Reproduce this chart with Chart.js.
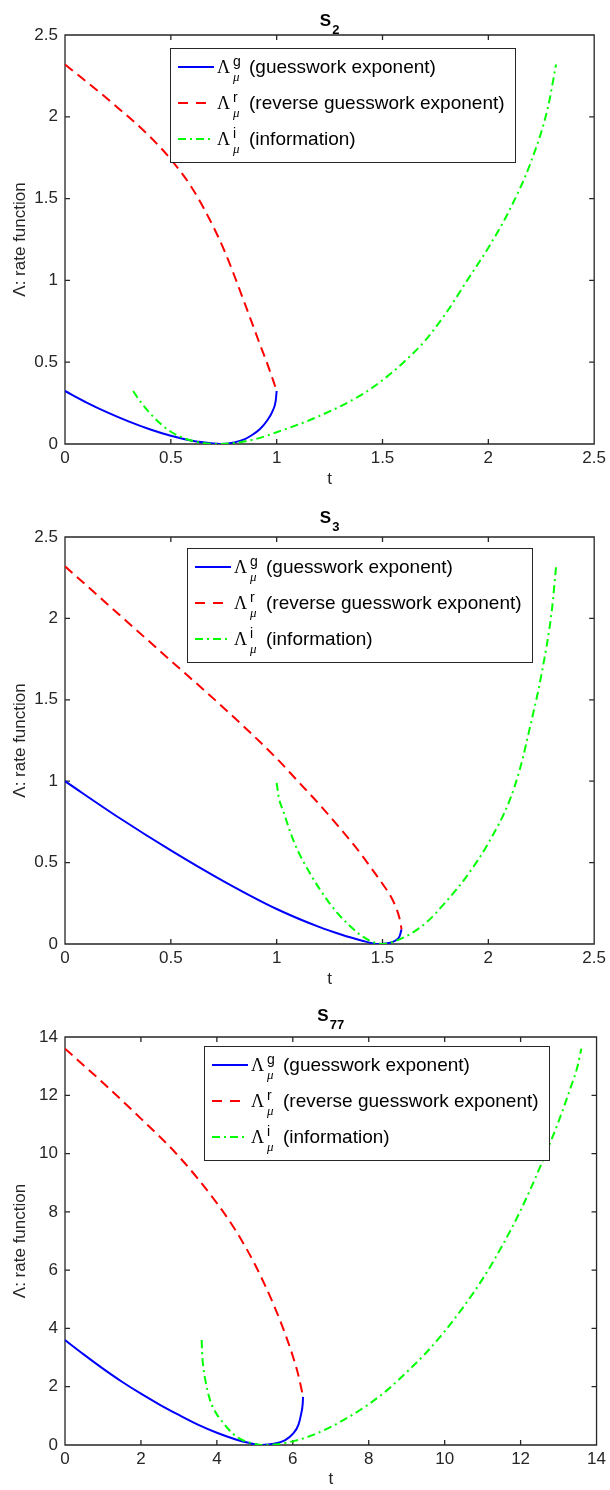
<!DOCTYPE html>
<html>
<head>
<meta charset="utf-8">
<title>Guesswork rate functions</title>
<script src="https://cdn.jsdelivr.net/npm/chart.js@4.4.1/dist/chart.umd.min.js"></script>
<style>
  html, body { margin: 0; padding: 0; background: #fff; overflow: hidden; }
  canvas { display: block; }
</style>
</head>
<body>
<canvas id="chart-s2" width="610" height="500"></canvas>
<canvas id="chart-s3" width="610" height="500"></canvas>
<canvas id="chart-s77" width="610" height="500"></canvas>
<script>
// S_2
const s2GuessT = [0, 0.1, 0.2, 0.3, 0.4, 0.5, 0.6, 0.7, 0.73, 0.8, 0.85, 0.88, 0.92, 0.956, 0.98, 0.995, 1.0];
const s2GuessRate = [0.324, 0.255, 0.193, 0.138, 0.09, 0.05, 0.02, 0.003, 0, 0.01, 0.03, 0.052, 0.09, 0.145, 0.2, 0.26, 0.324];
const s2ReverseT = [0, 0.2, 0.4, 0.5, 0.6, 0.7, 0.76, 0.81, 0.85, 0.883, 0.92, 0.956, 0.983, 1.0];
const s2ReverseRate = [2.32, 2.11, 1.88, 1.74, 1.565, 1.33, 1.16, 0.995, 0.856, 0.742, 0.612, 0.49, 0.39, 0.324];
const s2InfoT = [0.322, 0.35, 0.4, 0.45, 0.5, 0.55, 0.6, 0.65, 0.72, 0.8, 0.9, 1.0, 1.2, 1.4, 1.5, 1.6, 1.7, 1.8, 1.9, 2.0, 2.1, 2.2, 2.28, 2.32];
const s2InfoRate = [0.324, 0.27, 0.19, 0.125, 0.075, 0.042, 0.02, 0.006, 0, 0.006, 0.03, 0.072, 0.17, 0.3, 0.39, 0.5, 0.63, 0.8, 1.0, 1.2, 1.43, 1.72, 2.05, 2.32];

// S_3
const s3GuessT = [0, 0.25, 0.5, 0.75, 1.0, 1.2, 1.3, 1.4, 1.48, 1.53, 1.56, 1.58, 1.59];
const s3GuessRate = [1.0, 0.78, 0.575, 0.385, 0.215, 0.105, 0.06, 0.022, 0, 0.006, 0.02, 0.045, 0.09];
const s3ReverseT = [0, 0.25, 0.5, 0.75, 1.0, 1.1, 1.2, 1.3, 1.4, 1.45, 1.5, 1.54, 1.565, 1.58, 1.59];
const s3ReverseRate = [2.32, 2.03, 1.74, 1.45, 1.14, 1.0, 0.86, 0.71, 0.55, 0.46, 0.37, 0.29, 0.22, 0.16, 0.09];
const s3InfoT = [1.0, 1.01, 1.03, 1.084, 1.157, 1.25, 1.34, 1.43, 1.495, 1.61, 1.705, 1.8, 1.9, 2.0, 2.1, 2.15, 2.2, 2.25, 2.3, 2.32];
const s3InfoRate = [0.99, 0.9, 0.82, 0.62, 0.435, 0.25, 0.118, 0.027, 0, 0.047, 0.13, 0.26, 0.42, 0.62, 0.88, 1.08, 1.35, 1.65, 2.05, 2.32];

// S_77
const s77GuessT = [0, 0.5, 1.0, 1.5, 2.0, 2.5, 3.0, 3.5, 4.0, 4.5, 4.8, 5.17, 5.5, 5.8, 6.0, 6.15, 6.22, 6.26, 6.27];
const s77GuessRate = [3.6, 3.1, 2.62, 2.17, 1.76, 1.38, 1.03, 0.7, 0.42, 0.19, 0.085, 0, 0.04, 0.17, 0.38, 0.7, 1.07, 1.4, 1.65];
const s77ReverseT = [0, 1.0, 2.0, 3.0, 4.0, 4.5, 5.0, 5.5, 5.8, 6.0, 6.15, 6.27];
const s77ReverseRate = [13.6, 12.43, 11.2, 9.9, 8.3, 7.35, 6.2, 4.8, 3.81, 3.05, 2.38, 1.66];
const s77InfoT = [3.6, 3.61, 3.64, 3.7, 3.82, 4.0, 4.12, 4.3, 4.43, 4.6, 4.84, 5.25, 5.6, 6.07, 6.5, 7.0, 7.5, 8.0, 8.5, 9.0, 9.5, 10.0, 10.5, 11.0, 11.5, 12.0, 12.5, 13.0, 13.3, 13.5, 13.6];
const s77InfoRate = [3.6, 3.2, 2.7, 2.2, 1.54, 1.05, 0.84, 0.55, 0.38, 0.22, 0.09, 0, 0.03, 0.15, 0.33, 0.62, 0.98, 1.4, 1.9, 2.5, 3.15, 3.9, 4.75, 5.7, 6.8, 8.05, 9.5, 11.1, 12.2, 13.0, 13.6];

// tick labels
const smallTicks = [0, 0.5, 1, 1.5, 2, 2.5];
const s77Ticks = [0, 2, 4, 6, 8, 10, 12, 14];

// legend texts
const legendSups = ['g', 'r', 'i'];
const legendLabels = ['(guesswork exponent)', '(reverse guesswork exponent)', '(information)'];

(function () {
  const axisColor = '#262626';
  const sansFamily = '"Liberation Sans", Arial, Helvetica, sans-serif';
  const serifFamily = '"Liberation Serif", "Times New Roman", serif';
  const seriesStyle = [
    { color: '#0000ff', dash: [] },
    { color: '#ff0000', dash: [10, 6] },
    { color: '#00ff00', dash: [8, 4, 2, 4] },
  ];
  const legendSize = { width: 345, height: 114, rowGap: 36 };
  const tickSize = 5;

  Chart.defaults.font.family = sansFamily;
  Chart.defaults.color = axisColor;

  const panels = [
    {
      id: 'chart-s2', sub: '2', titleBase: 26, top: 35, xAxisHeight: 56, ticks: smallTicks,
      legendAt: { left: 170, top: 48 },
      series: [[s2GuessT, s2GuessRate], [s2ReverseT, s2ReverseRate], [s2InfoT, s2InfoRate]],
    },
    {
      id: 'chart-s3', sub: '3', titleBase: 23, top: 37, xAxisHeight: 56, ticks: smallTicks,
      legendAt: { left: 187, top: 48 },
      series: [[s3GuessT, s3GuessRate], [s3ReverseT, s3ReverseRate], [s3InfoT, s3InfoRate]],
    },
    {
      id: 'chart-s77', sub: '77', titleBase: 21, top: 37, xAxisHeight: 55, ticks: s77Ticks,
      legendAt: { left: 204, top: 46 },
      series: [[s77GuessT, s77GuessRate], [s77ReverseT, s77ReverseRate], [s77InfoT, s77InfoRate]],
    },
  ];

  const toPoints = (tValues, rateValues) => tValues.map((t, i) => ({ x: t, y: rateValues[i] }));

  // box round the axes with inward ticks on all four sides
  const axesFrame = {
    id: 'axesFrame',
    beforeDatasetsDraw(chart) {
      const { ctx, chartArea: { left, right, top, bottom }, scales: { x, y } } = chart;
      ctx.save();
      ctx.strokeStyle = axisColor;
      ctx.lineWidth = 1.3;
      ctx.beginPath();
      x.ticks.forEach((tick) => {
        const px = x.getPixelForValue(tick.value);
        ctx.moveTo(px, bottom);
        ctx.lineTo(px, bottom - tickSize);
        ctx.moveTo(px, top);
        ctx.lineTo(px, top + tickSize);
      });
      y.ticks.forEach((tick) => {
        const py = y.getPixelForValue(tick.value);
        ctx.moveTo(left, py);
        ctx.lineTo(left + tickSize, py);
        ctx.moveTo(right, py);
        ctx.lineTo(right - tickSize, py);
      });
      ctx.rect(left, top, right - left, bottom - top);
      ctx.stroke();
      ctx.restore();
    },
  };

  const subTitle = {
    id: 'subTitle',
    afterDraw(chart, args, opts) {
      const { ctx, chartArea: { left, right } } = chart;
      ctx.save();
      ctx.fillStyle = '#000';
      ctx.textBaseline = 'alphabetic';
      ctx.textAlign = 'left';
      ctx.font = `bold 17px ${sansFamily}`;
      const mainWidth = ctx.measureText('S').width;
      ctx.font = `bold 13px ${sansFamily}`;
      const subWidth = ctx.measureText(opts.sub).width;
      const start = (left + right) / 2 - (mainWidth + 1 + subWidth) / 2;
      ctx.font = `bold 17px ${sansFamily}`;
      ctx.fillText('S', start, opts.base);
      ctx.font = `bold 13px ${sansFamily}`;
      ctx.fillText(opts.sub, start + mainWidth + 1, opts.base + 8);
      ctx.restore();
    },
  };

  const mathLegend = {
    id: 'mathLegend',
    afterDraw(chart, args, opts) {
      const { ctx } = chart;
      const { left, top } = opts;
      ctx.save();
      ctx.fillStyle = '#fff';
      ctx.fillRect(left, top, legendSize.width, legendSize.height);
      ctx.strokeStyle = axisColor;
      ctx.lineWidth = 1;
      ctx.strokeRect(left + 0.5, top + 0.5, legendSize.width, legendSize.height);

      legendLabels.forEach((label, i) => {
        const base = top + 25 + i * legendSize.rowGap;
        ctx.strokeStyle = seriesStyle[i].color;
        ctx.lineWidth = 2;
        ctx.setLineDash(i === 1 ? [10, 8] : seriesStyle[i].dash);
        ctx.beginPath();
        ctx.moveTo(left + 8, base - 6);
        ctx.lineTo(left + 44, base - 6);
        ctx.stroke();
        ctx.setLineDash([]);

        ctx.fillStyle = '#000';
        ctx.textAlign = 'left';
        ctx.textBaseline = 'alphabetic';
        ctx.font = `18px ${serifFamily}`;
        ctx.fillText('Λ', left + 47, base);
        ctx.font = `14px ${sansFamily}`;
        ctx.fillText(legendSups[i], left + 63, base - 7);
        ctx.font = `italic 13px ${serifFamily}`;
        ctx.fillText('μ', left + 63, base + 8);
        ctx.font = `19px ${sansFamily}`;
        ctx.fillText(label, left + 79, base);
      });
      ctx.restore();
    },
  };

  const buildChart = (panel) => {
    const limit = panel.ticks[panel.ticks.length - 1];
    const fixTicks = (scale) => {
      scale.ticks = panel.ticks.map((value) => ({ value }));
    };

    new Chart(document.getElementById(panel.id), {
      type: 'scatter',
      data: {
        datasets: panel.series.map(([tValues, rateValues], i) => ({
          data: toPoints(tValues, rateValues),
          showLine: true,
          borderColor: seriesStyle[i].color,
          borderDash: seriesStyle[i].dash,
          borderWidth: 2,
          pointRadius: 0,
          cubicInterpolationMode: 'monotone',
          order: 3 - i,
        })),
      },
      options: {
        responsive: false,
        animation: false,
        events: [],
        layout: { padding: { top: panel.top, right: 13, left: 0, bottom: 0 } },
        plugins: {
          legend: { display: false },
          tooltip: { enabled: false },
          subTitle: { sub: panel.sub, base: panel.titleBase },
          mathLegend: panel.legendAt,
        },
        scales: {
          x: {
            type: 'linear',
            min: 0,
            max: limit,
            grid: { display: false, drawTicks: false },
            border: { display: false },
            afterBuildTicks: fixTicks,
            afterFit: (scale) => {
              scale.height = panel.xAxisHeight;
            },
            ticks: {
              autoSkip: false,
              maxRotation: 0,
              padding: 4,
              color: axisColor,
              font: { size: 17 },
              callback: (value) => String(value),
            },
            title: {
              display: true,
              text: 't',
              color: axisColor,
              font: { size: 17 },
              padding: { top: 0, bottom: 10 },
            },
          },
          y: {
            type: 'linear',
            min: 0,
            max: limit,
            grid: { display: false, drawTicks: false },
            border: { display: false },
            afterBuildTicks: fixTicks,
            afterFit: (scale) => {
              scale.width = 65;
            },
            ticks: {
              autoSkip: false,
              padding: 7,
              color: axisColor,
              font: { size: 17 },
              callback: (value) => String(value),
            },
            title: {
              display: true,
              text: 'Λ: rate function',
              color: axisColor,
              font: { size: 17 },
              padding: { top: 10, bottom: 0 },
            },
          },
        },
      },
      plugins: [axesFrame, subTitle, mathLegend],
    });
  };

  panels.forEach(buildChart);
})();
</script>
</body>
</html>
